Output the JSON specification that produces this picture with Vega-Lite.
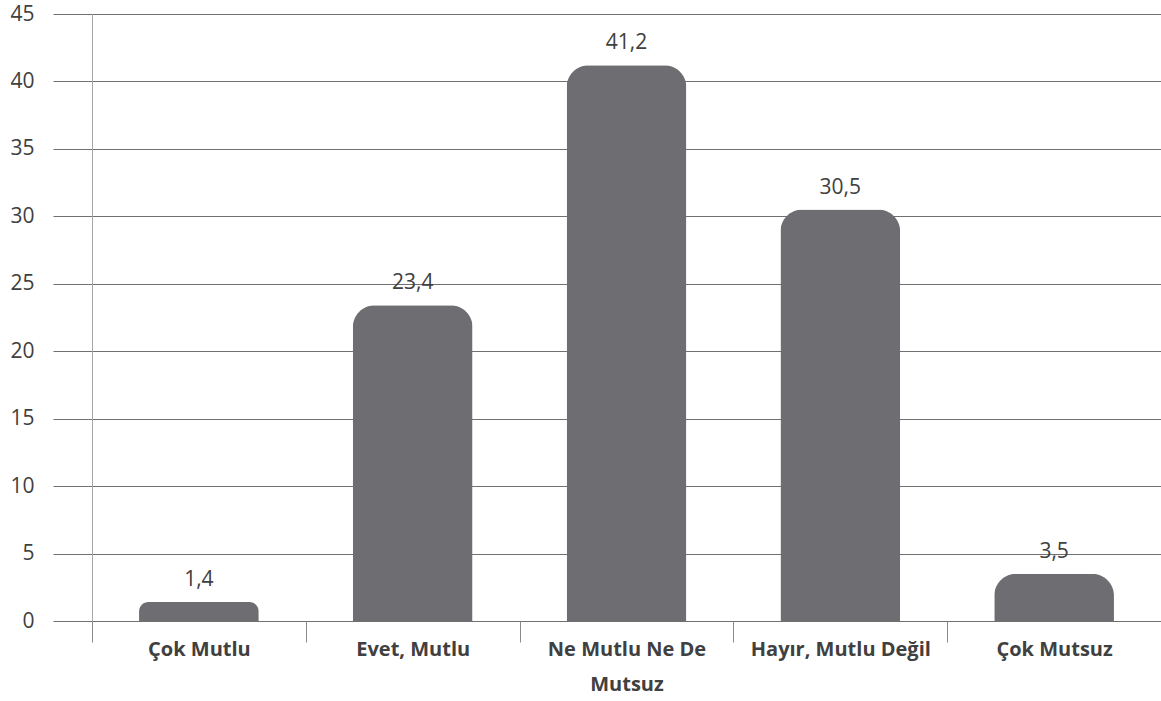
{
  "$schema": "https://vega.github.io/schema/vega-lite/v6.json",
  "autosize": "none",
  "width": 1069,
  "height": 607,
  "padding": {"left": 92, "top": 14, "right": 0, "bottom": 80},
  "background": "white",
  "config": {
    "font": "Open Sans",
    "view": {"stroke": null},
    "locale": {
      "number": {"decimal": ",", "thousands": ".", "grouping": [3], "currency": ["", " ₺"]}
    }
  },
  "data": {
    "values": [
      {"kategori": "Çok Mutlu", "deger": 1.4},
      {"kategori": "Evet, Mutlu", "deger": 23.4},
      {"kategori": "Ne Mutlu Ne De Mutsuz", "deger": 41.2},
      {"kategori": "Hayır, Mutlu Değil", "deger": 30.5},
      {"kategori": "Çok Mutsuz", "deger": 3.5}
    ]
  },
  "encoding": {
    "x": {
      "field": "kategori",
      "type": "nominal",
      "sort": null,
      "scale": {"paddingInner": 0, "paddingOuter": 0},
      "axis": {
        "title": null,
        "labelAngle": 0,
        "tickBand": "extent",
        "tickSize": 21,
        "tickColor": "#8a8a8a",
        "domain": false,
        "labelFont": "Open Sans",
        "labelFontSize": 20,
        "labelFontWeight": "bold",
        "labelColor": "#404040",
        "labelPadding": -3,
        "labelLineHeight": 35,
        "labelBaseline": "top",
        "labelLimit": 400,
        "labelExpr": "datum.label == 'Ne Mutlu Ne De Mutsuz' ? ['Ne Mutlu Ne De', 'Mutsuz'] : datum.label"
      }
    },
    "y": {
      "field": "deger",
      "type": "quantitative",
      "scale": {"domain": [0, 45]},
      "axis": {
        "title": null,
        "values": [0, 5, 10, 15, 20, 25, 30, 35, 40, 45],
        "tickSize": 39,
        "tickColor": "#707070",
        "gridColor": "#707070",
        "grid": true,
        "domainColor": "#a6a6a6",
        "labelFont": "Open Sans",
        "labelFontSize": 21,
        "labelColor": "#404040",
        "labelPadding": 19
      }
    }
  },
  "layer": [
    {
      "mark": {
        "type": "bar",
        "color": "#6e6e72",
        "width": {"band": 0.56},
        "cornerRadiusTopLeft": 22,
        "cornerRadiusTopRight": 22
      }
    },
    {
      "mark": {
        "type": "text",
        "font": "Open Sans",
        "fontSize": 21,
        "color": "#404040",
        "baseline": "middle",
        "dy": -22
      },
      "encoding": {
        "text": {"field": "deger", "type": "quantitative", "format": ".1f"}
      }
    }
  ]
}
